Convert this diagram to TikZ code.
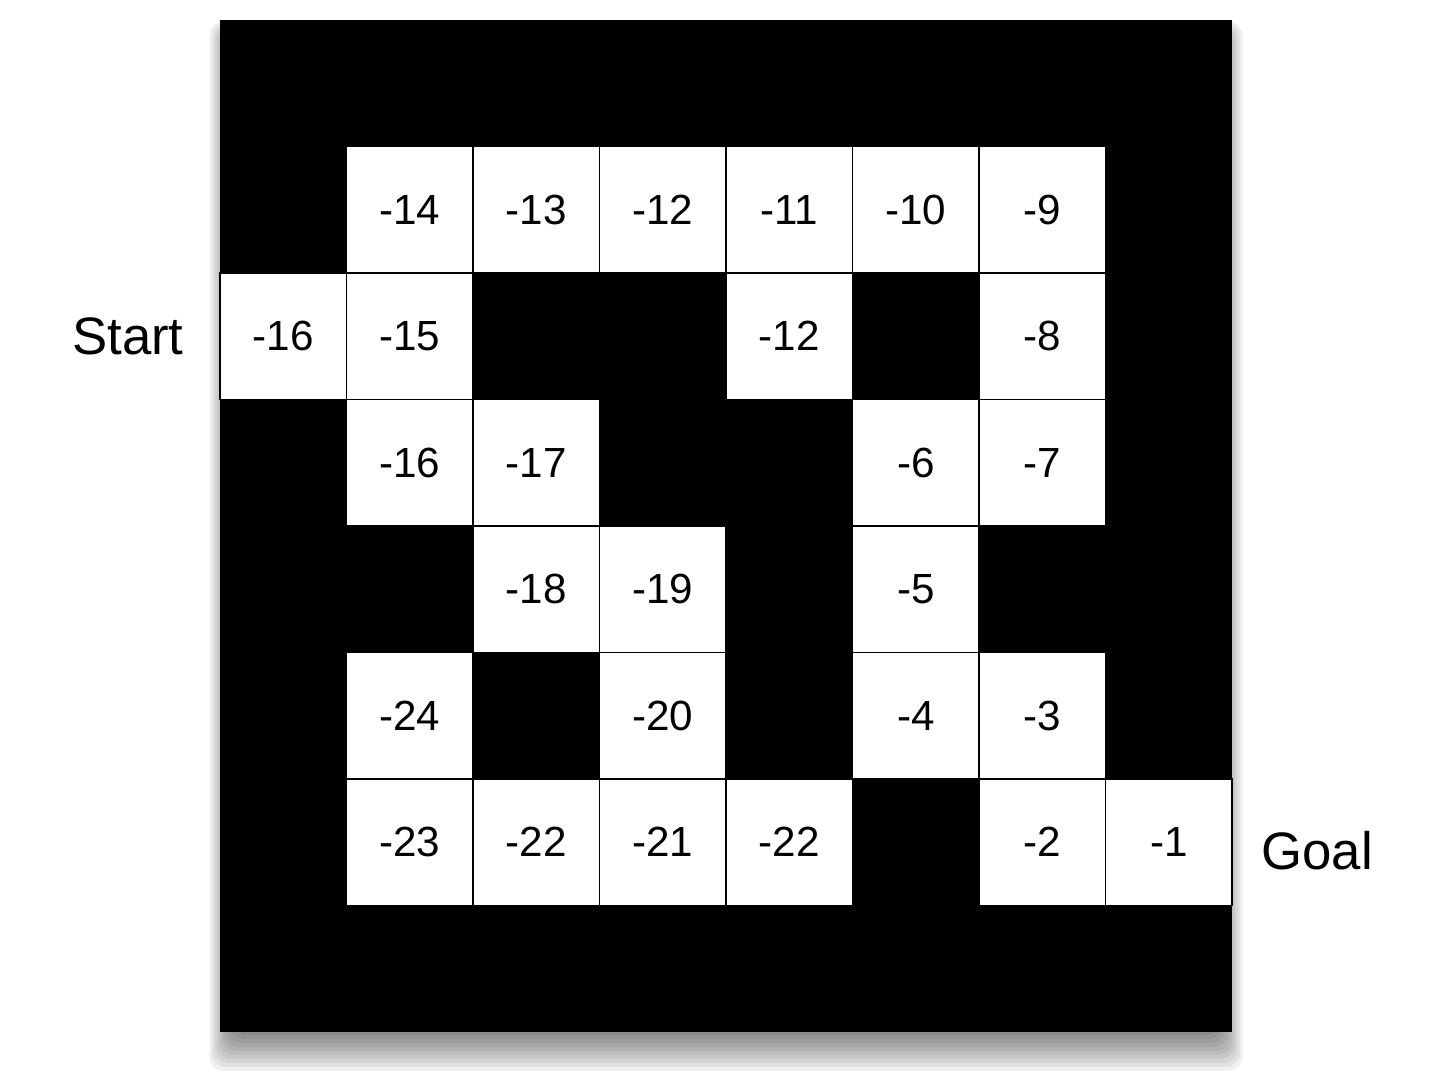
\documentclass[tikz,border=0pt]{standalone}
\usepackage{fontspec}
\setmainfont{Liberation Sans}
\usetikzlibrary{positioning}

\begin{document}
\begin{tikzpicture}[
    cell/.style={draw=black, line width=0.4pt, fill=white, minimum size=1.265cm,
                 inner sep=0pt, font=\fontsize{12}{14}\selectfont},
    endlabel/.style={inner sep=0pt, font=\fontsize{15}{18}\selectfont}
  ]
  \useasboundingbox (0,0) rectangle (14.32,10.80);

  %%%%% SHADOW %%%%%
  \foreach \k in {0,...,9}
    \fill[black, opacity=0.06, rounded corners=4pt]
      ({2.32-0.025*\k}, {0.45-0.04*\k}) rectangle ({12.20+0.025*\k}, {10.45+0.015*\k});

  %%%%% MAZE %%%%%
  \fill[black] (2.20, 0.48) rectangle (12.32, 10.60);

  \foreach \r/\c/\v in {1/1/-14, 1/2/-13, 1/3/-12, 1/4/-11, 1/5/-10, 1/6/-9,
                        2/0/-16, 2/1/-15, 2/4/-12, 2/6/-8,
                        3/1/-16, 3/2/-17, 3/5/-6, 3/6/-7,
                        4/2/-18, 4/3/-19, 4/5/-5,
                        5/1/-24, 5/3/-20, 5/5/-4, 5/6/-3,
                        6/1/-23, 6/2/-22, 6/3/-21, 6/4/-22, 6/6/-2, 6/7/-1}
    \node[cell] (c\r\c) at ({2.20+(\c+0.5)*1.265}, {10.60-(\r+0.5)*1.265}) {\v};

  %%%%% LABELS %%%%%
  \node[endlabel, left=0.35cm of c20] (start) {Start};
  \node[endlabel, right=0.28cm of c67, yshift=-0.08cm] (goal) {Goal};
\end{tikzpicture}
\end{document}
